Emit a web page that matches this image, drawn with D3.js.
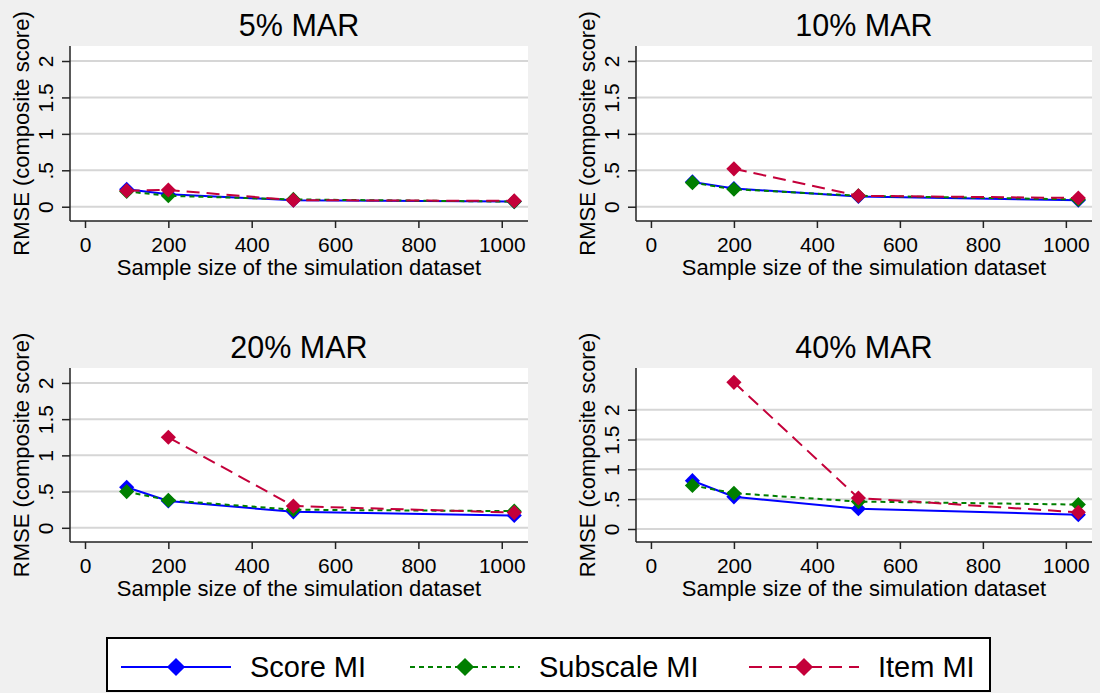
<!DOCTYPE html>
<html>
<head>
<meta charset="utf-8">
<script src="https://cdn.jsdelivr.net/npm/d3@7"></script>
<style>
  body { margin: 0; background: #f0f0f0; }
  svg { display: block; font-family: "Liberation Sans", Arial, sans-serif; }
</style>
</head>
<body>
<div id="chart"></div>
<script>
// values
const sampleSizes = [100, 200, 500, 1030];
const panelTitles = ["5% MAR", "10% MAR", "20% MAR", "40% MAR"];
const scoreMI    = [[0.24, 0.17, 0.09, 0.07], [0.34, 0.25, 0.14, 0.09], [0.56, 0.37, 0.22, 0.17], [0.81, 0.54, 0.34, 0.24]];
const subscaleMI = [[0.21, 0.15, 0.10, 0.07], [0.33, 0.24, 0.15, 0.10], [0.50, 0.38, 0.25, 0.23], [0.73, 0.60, 0.46, 0.41]];
const itemMI     = [[0.22, 0.23, 0.09, 0.08], [null, 0.52, 0.15, 0.12], [null, 1.25, 0.30, 0.21], [null, 2.46, 0.52, 0.28]];
const seriesNames = ["Score MI", "Subscale MI", "Item MI"];
const xTicks = [0, 200, 400, 600, 800, 1000];
const yTicks = [0, 0.5, 1, 1.5, 2];
const yTickLabels = ["0", ".5", "1", "1.5", "2"];
const yMax = [2.206, 2.206, 2.206, 2.70];
const yMin = [-0.196, -0.196, -0.196, -0.218];

const width = 1100, height = 693;
const colors = ["#0000ff", "#007f00", "#c4003a"];
const dashes = [null, "5,4", "13,7"];
const allSeries = [scoreMI, subscaleMI, itemMI];

// panel boxes (plot regions)
const cols = [[70, 528], [636, 1092]];
const rows = [[46, 221], [368, 542]];

const svg = d3.select("#chart").append("svg")
  .attr("width", width).attr("height", height)
  .attr("viewBox", [0, 0, width, height]);

svg.append("rect").attr("width", width).attr("height", height).attr("fill", "#f0f0f0");

const diamond = d3.symbol().type(d3.symbolSquare).size(115);

panelTitles.forEach((title, i) => {
  const [x0, x1] = cols[i % 2];
  const [y0, y1] = rows[Math.floor(i / 2)];
  const x = d3.scaleLinear().domain([-36, 1063]).range([x0, x1]);
  const y = d3.scaleLinear().domain([yMin[i], yMax[i]]).range([y1, y0]);
  const g = svg.append("g");

  g.append("rect").attr("x", x0).attr("y", y0)
    .attr("width", x1 - x0).attr("height", y1 - y0).attr("fill", "#fff");

  // gridlines
  g.selectAll("line.grid").data(yTicks).join("line")
    .attr("class", "grid")
    .attr("x1", x0).attr("x2", x1)
    .attr("y1", d => y(d)).attr("y2", d => y(d))
    .attr("stroke", "#d6d6d6").attr("stroke-width", 2);

  // axes
  const xAxis = d3.axisBottom(x).tickValues(xTicks).tickSize(7).tickPadding(0).tickFormat(d3.format("d"));
  const gx = g.append("g").attr("transform", `translate(0,${y1})`).call(xAxis);
  gx.select(".domain").attr("d", `M${x0},0H${x1}`).attr("stroke", "#222").attr("stroke-width", 1.5);
  gx.selectAll(".tick line").attr("stroke", "#222").attr("stroke-width", 1.5);
  gx.selectAll(".tick text").attr("font-size", 21).attr("fill", "#000")
    .attr("dy", null).attr("y", 31);

  const yAxis = d3.axisLeft(y).tickValues(yTicks).tickSize(8).tickFormat((d, k) => yTickLabels[k]);
  const gy = g.append("g").attr("transform", `translate(${x0},0)`).call(yAxis);
  gy.select(".domain").attr("d", `M0,${y0}V${y1}`).attr("stroke", "#222").attr("stroke-width", 1.5);
  gy.selectAll(".tick line").attr("stroke", "#222").attr("stroke-width", 1.5);
  gy.selectAll(".tick text")
    .attr("font-size", 21).attr("fill", "#000")
    .attr("x", null).attr("dy", null)
    .attr("text-anchor", "middle")
    .attr("transform", "translate(-17,0) rotate(-90)");

  // titles
  g.append("text").attr("x", (x0 + x1) / 2).attr("y", y0 - 10)
    .attr("text-anchor", "middle").attr("font-size", 30.5).text(title);
  g.append("text").attr("x", (x0 + x1) / 2).attr("y", y1 + 54)
    .attr("text-anchor", "middle").attr("font-size", 22)
    .text("Sample size of the simulation dataset");
  g.append("text")
    .attr("transform", `translate(${x0 - 41},${(y0 + y1) / 2}) rotate(-90)`)
    .attr("text-anchor", "middle").attr("font-size", 22)
    .text("RMSE (composite score)");

  // series
  const line = d3.line()
    .defined(d => d[1] != null)
    .x(d => x(d[0])).y(d => y(d[1]));

  allSeries.forEach((series, s) => {
    const pts = sampleSizes.map((n, k) => [n, series[i][k]]);
    g.append("path").datum(pts)
      .attr("d", line)
      .attr("fill", "none")
      .attr("stroke", colors[s]).attr("stroke-width", 2)
      .attr("stroke-dasharray", dashes[s]);
    g.selectAll(null).data(pts.filter(d => d[1] != null)).join("path")
      .attr("d", diamond)
      .attr("transform", d => `translate(${x(d[0])},${y(d[1])}) rotate(45)`)
      .attr("fill", colors[s]);
  });
});

// legend
const legend = svg.append("g");
legend.append("rect").attr("x", 107).attr("y", 638).attr("width", 883).attr("height", 53)
  .attr("fill", "#fff").attr("stroke", "#000").attr("stroke-width", 2);
const legendX = [121, 410, 749];
const legendDiamond = d3.symbol().type(d3.symbolSquare).size(165);
seriesNames.forEach((name, s) => {
  const lx = legendX[s];
  const ly = 667;
  legend.append("line").attr("x1", lx).attr("x2", lx + 110).attr("y1", ly).attr("y2", ly)
    .attr("stroke", colors[s]).attr("stroke-width", 2).attr("stroke-dasharray", dashes[s]);
  legend.append("path").attr("d", legendDiamond)
    .attr("transform", `translate(${lx + 55},${ly}) rotate(45)`).attr("fill", colors[s]);
  legend.append("text").attr("x", lx + 129).attr("y", ly + 10)
    .attr("font-size", 29).text(name);
});
</script>
</body>
</html>
